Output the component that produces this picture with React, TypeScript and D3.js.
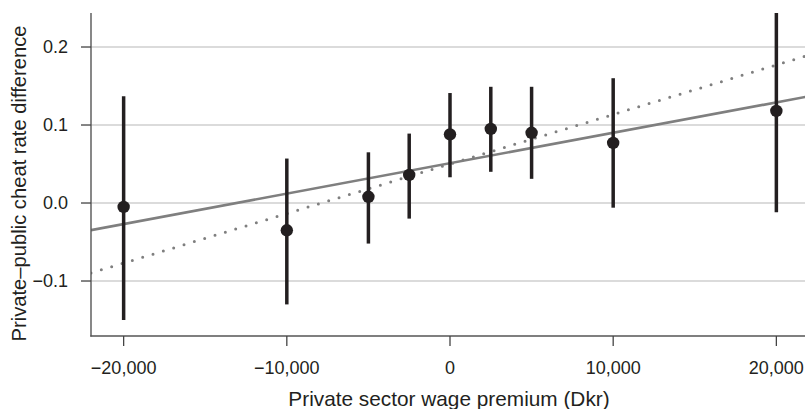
import * as d3 from "d3";

const width = 805;
const height = 409;

// wage premium bins (Dkr)
const premiums = [-20000, -10000, -5000, -2500, 0, 2500, 5000, 10000, 20000];
// private-public cheat rate difference, point estimates
const estimates = [-0.005, -0.035, 0.008, 0.036, 0.088, 0.095, 0.09, 0.077, 0.118];
const ciLow = [-0.15, -0.13, -0.052, -0.02, 0.033, 0.04, 0.031, -0.006, -0.012];
const ciHigh = [0.137, 0.057, 0.065, 0.089, 0.141, 0.149, 0.149, 0.16, 0.245];

// fitted lines: [intercept, slope per Dkr]
const linearFit = [0.051, 3.9e-6];
const binnedFit = [0.05, 6.35e-6];

const xTicks = [-20000, -10000, 0, 10000, 20000];
const yTicks = [-0.1, 0.0, 0.1, 0.2];

const font = "'Liberation Sans', Arial, Helvetica, sans-serif";

export default function App() {
  const x = d3.scaleLinear().domain([-22000, 22000]).range([91, 809]);
  const y = d3.scaleLinear().domain([-0.1705, 0.2436]).range([336, 13]);

  const fmtX = d3.format(",");
  const fmtY = d3.format(".1f");

  const fitLine = (fit: number[]) =>
    d3
      .line<number>()
      .x((d) => x(d))
      .y((d) => y(fit[0] + fit[1] * d))(x.domain());

  return (
    <svg
      width={width}
      height={height}
      style={{ position: "absolute", left: 0, top: 0, background: "#fff" }}
      fontFamily={font}
    >
      <defs>
        <clipPath id="plot">
          <rect x={91} y={13} width={718} height={323} />
        </clipPath>
      </defs>

      {/* gridlines */}
      {yTicks.map((t) => (
        <line key={t} x1={91} x2={809} y1={y(t)} y2={y(t)} stroke="#cfcfcf" strokeWidth={1.3} />
      ))}

      <g clipPath="url(#plot)">
        <path d={fitLine(binnedFit) || ""} fill="none" stroke="#7f7f7f" strokeWidth={3}
          strokeDasharray="0 10.8" strokeLinecap="round" />
        <path d={fitLine(linearFit) || ""} fill="none" stroke="#7f7f7f" strokeWidth={2.6} />

        {premiums.map((p, i) => (
          <g key={p}>
            <line x1={x(p)} x2={x(p)} y1={y(ciLow[i])} y2={y(ciHigh[i])} stroke="#231f20" strokeWidth={3.5} />
            <circle cx={x(p)} cy={y(estimates[i])} r={6.2} fill="#231f20" />
          </g>
        ))}
      </g>

      {/* axes */}
      <line x1={91} x2={91} y1={13} y2={336.5} stroke="#555" strokeWidth={1.4} />
      <line x1={90.3} x2={809} y1={336} y2={336} stroke="#555" strokeWidth={1.4} />

      {yTicks.map((t) => (
        <g key={t}>
          <line x1={81} x2={91} y1={y(t)} y2={y(t)} stroke="#444" strokeWidth={1.3} />
          <text x={68} y={y(t)} dy="0.35em" textAnchor="end" fontSize={18} fill="#231f20">
            {fmtY(t)}
          </text>
        </g>
      ))}

      {xTicks.map((t) => (
        <g key={t}>
          <line x1={x(t)} x2={x(t)} y1={336} y2={346} stroke="#444" strokeWidth={1.3} />
          <text x={x(t)} y={374} textAnchor="middle" fontSize={18} fill="#231f20">
            {fmtX(t)}
          </text>
        </g>
      ))}

      <text x={449} y={406} textAnchor="middle" fontSize={20.8} fill="#231f20">
        Private sector wage premium (Dkr)
      </text>
      <text transform="translate(26,183.5) rotate(-90)" textAnchor="middle" fontSize={20.2} fill="#231f20">
        Private–public cheat rate difference
      </text>
    </svg>
  );
}
